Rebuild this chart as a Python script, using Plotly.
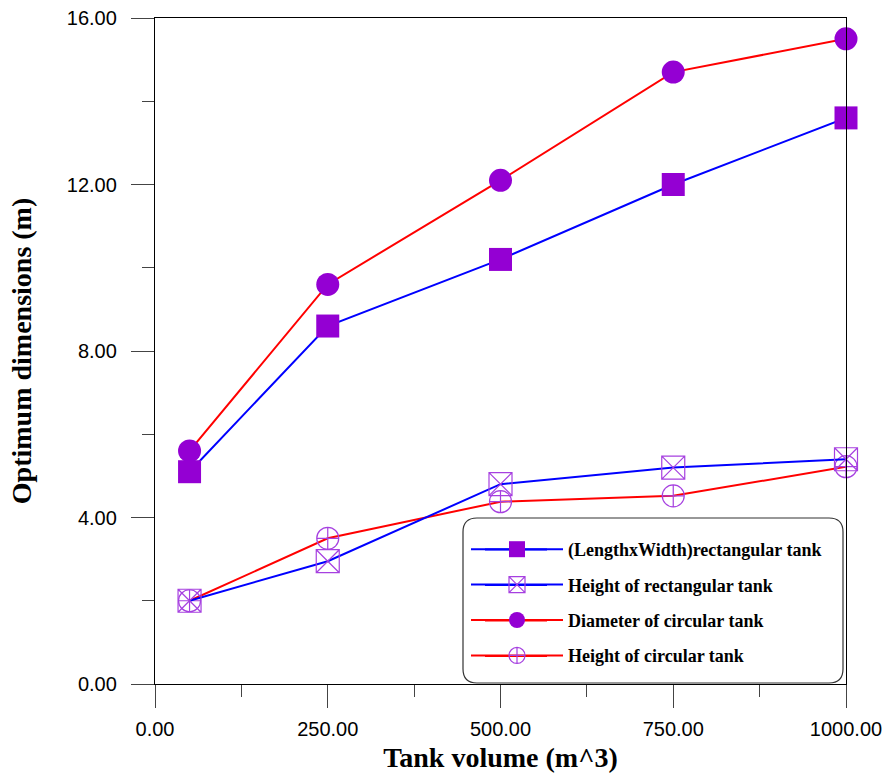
import plotly.graph_objects as go

volume = [50, 250, 500, 750, 1000]
lw_rect = [5.1, 8.6, 10.2, 12.0, 13.6]
h_rect = [2.0, 2.95, 4.8, 5.2, 5.4]
d_circ = [5.6, 9.6, 12.1, 14.7, 15.5]
h_circ = [2.0, 3.5, 4.38, 4.52, 5.22]

names = ["(LengthxWidth)rectangular tank", "Height of rectangular tank",
         "Diameter of circular tank", "Height of circular tank"]
line_colors = ["#0000ff", "#0000ff", "#ff0000", "#ff0000"]

PURPLE = "#9400d3"
OPEN = "#a640e0"

fig = go.Figure()
fig.add_trace(go.Scatter(x=volume, y=d_circ, name="<b>" + names[2] + "</b>", mode="lines+markers",
                         line=dict(color=line_colors[2], width=2), cliponaxis=False,
                         marker=dict(symbol="circle", size=23, color=PURPLE),
                         legendgroup="c", legendrank=3))
fig.add_trace(go.Scatter(x=volume, y=lw_rect, name="<b>" + names[0] + "</b>", mode="lines+markers",
                         line=dict(color=line_colors[0], width=2), cliponaxis=False,
                         marker=dict(symbol="square", size=23, color=PURPLE),
                         legendgroup="a", legendrank=1))
fig.add_trace(go.Scatter(x=volume, y=h_circ, name="<b>" + names[3] + "</b>", mode="lines+markers",
                         line=dict(color=line_colors[3], width=2), cliponaxis=False,
                         marker=dict(symbol="circle-cross-open", size=22, color=OPEN,
                                     line=dict(width=1.2, color=OPEN)),
                         legendgroup="d", legendrank=4))
fig.add_trace(go.Scatter(x=volume, y=h_rect, name="<b>" + names[1] + "</b>", mode="lines+markers",
                         line=dict(color=line_colors[1], width=2), cliponaxis=False,
                         marker=dict(symbol="square-x-open", size=23, color=OPEN,
                                     line=dict(width=1.2, color=OPEN)),
                         legendgroup="b", legendrank=2))

axis_common = dict(showline=True, linecolor="black", linewidth=1.3, mirror=True,
                   ticks="outside", ticklen=23, tickwidth=1, tickcolor="#444",
                   showgrid=False, zeroline=False, tickformat=".2f", automargin=False,
                   tickfont=dict(family="Liberation Sans, Arial", size=20, color="black"))

title_font = dict(family="Liberation Serif, Times New Roman", size=28, color="black")

fig.update_xaxes(range=[0, 1000], tickvals=[0, 250, 500, 750, 1000],
                 minor=dict(tickvals=[125, 375, 625, 875], ticklen=12, tickcolor="#444", ticks="outside"),
                 title=dict(text="<b>Tank volume (m^3)</b>", standoff=8, font=title_font),
                 ticklabelstandoff=4, **axis_common)
fig.update_yaxes(range=[0, 16], tickvals=[0, 4, 8, 12, 16],
                 minor=dict(tickvals=[2, 6, 10, 14], ticklen=12, tickcolor="#444", ticks="outside"),
                 title=dict(text="<b>Optimum dimensions (m)</b>", standoff=26, font=title_font),
                 ticklabelstandoff=10, **axis_common)

# pixel geometry of the plot area
PX0, PX1, PY0, PY1 = 155, 846, 18, 684
def px_to_paper_x(px): return (px - PX0) / (PX1 - PX0)
def px_to_paper_y(py): return (PY1 - py) / (PY1 - PY0)

# rounded legend frame
x0, x1, y0, y1, r = 463, 843, 518, 683, 14
rx = r / (PX1 - PX0)
ry = r / (PY1 - PY0)
X0, X1 = px_to_paper_x(x0), px_to_paper_x(x1)
Y0, Y1 = px_to_paper_y(y1), px_to_paper_y(y0)
path = (f"M {X0+rx},{Y1} L {X1-rx},{Y1} Q {X1},{Y1} {X1},{Y1-ry} "
        f"L {X1},{Y0+ry} Q {X1},{Y0} {X1-rx},{Y0} L {X0+rx},{Y0} "
        f"Q {X0},{Y0} {X0},{Y0+ry} L {X0},{Y1-ry} Q {X0},{Y1} {X0+rx},{Y1} Z")
fig.add_shape(type="path", path=path, xref="paper", yref="paper",
              line=dict(color="#333", width=1.2), fillcolor="white", layer="above")

# longer legend line samples (behind the legend's own symbols)
row_px = [549.5, 585, 620.5, 656]
for py, col in zip(row_px, line_colors):
    fig.add_shape(type="line", xref="paper", yref="paper",
                  x0=px_to_paper_x(485), x1=px_to_paper_x(547),
                  y0=px_to_paper_y(py), y1=px_to_paper_y(py),
                  line=dict(color=col, width=2), layer="above")

fig.update_layout(
    width=889, height=776,
    margin=dict(l=155, r=43, t=18, b=92, autoexpand=False),
    plot_bgcolor="white", paper_bgcolor="white",
    legend=dict(x=px_to_paper_x(466), y=px_to_paper_y(531), xanchor="left", yanchor="top",
                bgcolor="rgba(0,0,0,0)", borderwidth=0, tracegroupgap=9,
                itemwidth=92,
                font=dict(family="Liberation Serif, Times New Roman", size=18, color="black")),
    showlegend=True,
)

fig.write_html("out.html")
